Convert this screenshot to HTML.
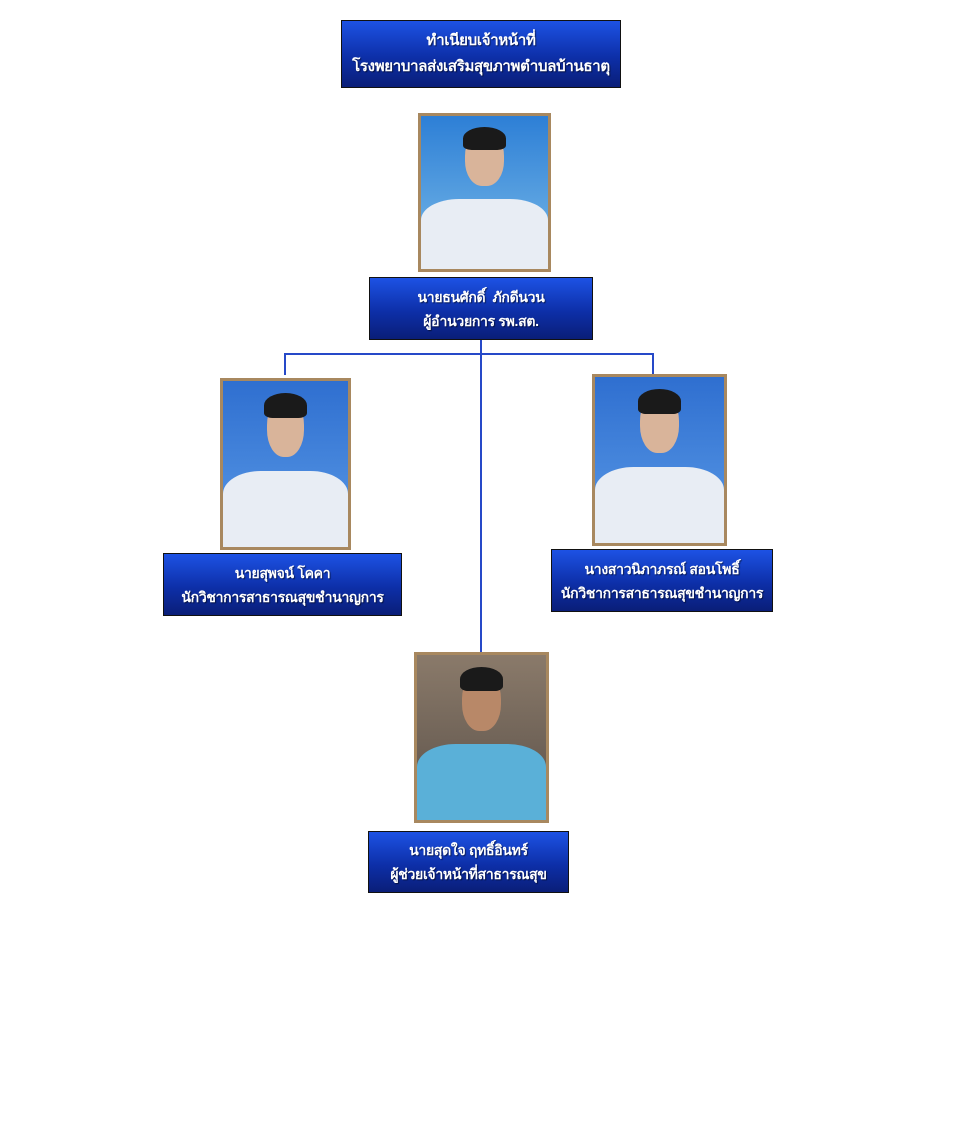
<!DOCTYPE html>
<html><head><meta charset="utf-8"><style>
body{margin:0;width:960px;height:1134px;background:#fff;position:relative;overflow:hidden;font-family:"Liberation Sans","Noto Sans CJK SC",sans-serif}
.b{position:absolute;box-sizing:border-box;border:1px solid #111;background:linear-gradient(#1d52e4,#0d2fa8 55%,#0a1e78);color:#fff;font-weight:bold;font-size:14px;text-align:center;display:flex;flex-direction:column;justify-content:center;line-height:24px;white-space:nowrap;letter-spacing:-0.3px;text-shadow:1px 1px 1px #0008}
.p{position:absolute;box-sizing:border-box;border:3px solid #a8885f;overflow:hidden;background:linear-gradient(#2f6fd0,#5a9ae6)}
.p .hd{position:absolute;left:35%;width:30%;top:10%;height:36%;border-radius:45%;background:#d9b49a}
.p .hr{position:absolute;left:33%;width:34%;top:7%;height:15%;border-radius:50% 50% 20% 20%;background:#1a1a1a}
.p .bd{position:absolute;left:0;right:0;bottom:0;height:46%;background:#e8edf4;border-radius:30% 30% 0 0}
.l{position:absolute;background:#2649c8}
</style></head><body>
<div class="b" style="left:341px;top:20px;width:280px;height:68px;font-size:15px;line-height:26px">ทำเนียบเจ้าหน้าที่<br>โรงพยาบาลส่งเสริมสุขภาพตำบลบ้านธาตุ</div>

<div class="l" style="left:480px;top:339px;width:2px;height:314px"></div>
<div class="l" style="left:285px;top:353px;width:369px;height:2px"></div>
<div class="l" style="left:284px;top:353px;width:2px;height:22px"></div>
<div class="l" style="left:652px;top:353px;width:2px;height:22px"></div>

<div class="p" style="left:418px;top:113px;width:133px;height:159px;background:linear-gradient(#2d7fd6,#7bbbe8)"><div class="bd"></div><div class="hd"></div><div class="hr"></div></div>
<div class="b" style="left:369px;top:277px;width:224px;height:63px">นายธนศักดิ์&nbsp; ภักดีนวน<br>ผู้อำนวยการ รพ.สต.</div>

<div class="p" style="left:220px;top:378px;width:131px;height:172px"><div class="bd"></div><div class="hd"></div><div class="hr"></div></div>
<div class="b" style="left:163px;top:553px;width:239px;height:63px">นายสุพจน์ โคคา<br>นักวิชาการสาธารณสุขชำนาญการ</div>

<div class="p" style="left:592px;top:374px;width:135px;height:172px"><div class="bd"></div><div class="hd"></div><div class="hr"></div></div>
<div class="b" style="left:551px;top:549px;width:222px;height:63px">นางสาวนิภาภรณ์ สอนโพธิ์<br>นักวิชาการสาธารณสุขชำนาญการ</div>

<div class="p" style="left:414px;top:652px;width:135px;height:171px;background:linear-gradient(#8a7a6a,#5a5048)"><div class="bd" style="background:#5ab0d8"></div><div class="hd" style="background:#b88868"></div><div class="hr"></div></div>
<div class="b" style="left:368px;top:831px;width:201px;height:62px">นายสุดใจ ฤทธิ์อินทร์<br>ผู้ช่วยเจ้าหน้าที่สาธารณสุข</div>
</body></html>
